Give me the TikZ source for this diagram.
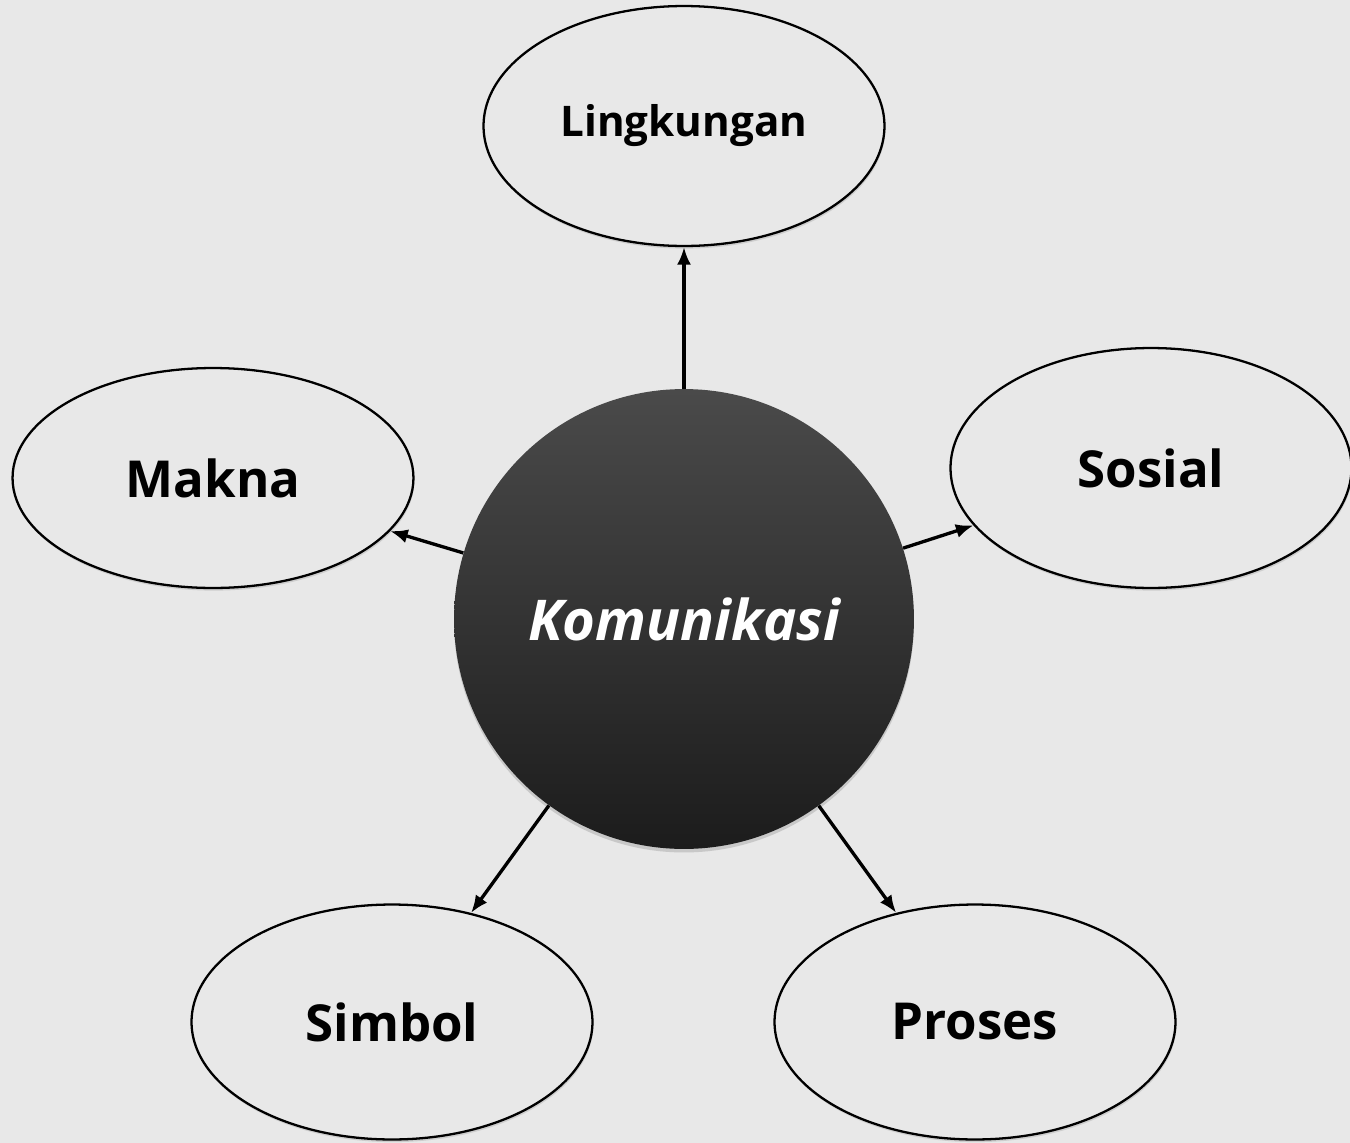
\documentclass[tikz,border=0pt]{standalone}
\usepackage{fontspec}
\setmainfont{Open Sans}
\usetikzlibrary{shapes.geometric,arrows.meta,shadows}

\definecolor{paper}{HTML}{E8E8E8}
\definecolor{balltop}{HTML}{4A4A4A}
\definecolor{ballbottom}{HTML}{1C1C1C}

\begin{document}
\begin{tikzpicture}[x=0.02cm, y=-0.02cm,
    idea/.style={draw, ellipse, line width=1.3pt, fill=paper, inner sep=0pt,
        minimum width=8.02cm, minimum height=4.8cm, font=\bfseries,
        drop shadow={opacity=0.25, shadow xshift=0.5pt, shadow yshift=-1.5pt}},
    hub/.style={circle, inner sep=0pt, minimum size=9.2cm, top color=balltop,
        bottom color=ballbottom, text=white, font=\itshape\bfseries\fontsize{32}{36}\selectfont,
        drop shadow={opacity=0.3, shadow xshift=0pt, shadow yshift=-2pt}},
    link/.style={-{Latex[length=10pt, width=8pt]}, line width=1.9pt}]

        % background
        \fill[paper] (0,0) rectangle (1350,1143);
        \useasboundingbox (0,0) rectangle (1350,1143);

        % centre
        \node[hub] (komunikasi) at (684,619) {Komunikasi};

        % the five ideas round it
        \node[idea, font=\bfseries\fontsize{24}{28}\selectfont] (lingkungan) at (684,126) {Lingkungan};
        \node[idea, minimum height=4.4cm, font=\bfseries\fontsize{29}{34}\selectfont] (makna) at (213,478) {Makna};
        \node[idea, font=\bfseries\fontsize{29}{34}\selectfont] (sosial) at (1151,468) {Sosial};
        \node[idea, minimum height=4.7cm, font=\bfseries\fontsize{29}{34}\selectfont] (simbol) at (392,1022) {Simbol};
        \node[idea, minimum height=4.7cm, font=\bfseries\fontsize{29}{34}\selectfont] (proses) at (975,1022) {Proses};

        % arrows out of the centre
        \draw[link] (komunikasi) -- (lingkungan);
        \draw[link] (komunikasi) -- (makna);
        \draw[link] (komunikasi) -- (sosial);
        \draw[link] (komunikasi) -- (simbol);
        \draw[link] (komunikasi) -- (proses);

\end{tikzpicture}
\end{document}
